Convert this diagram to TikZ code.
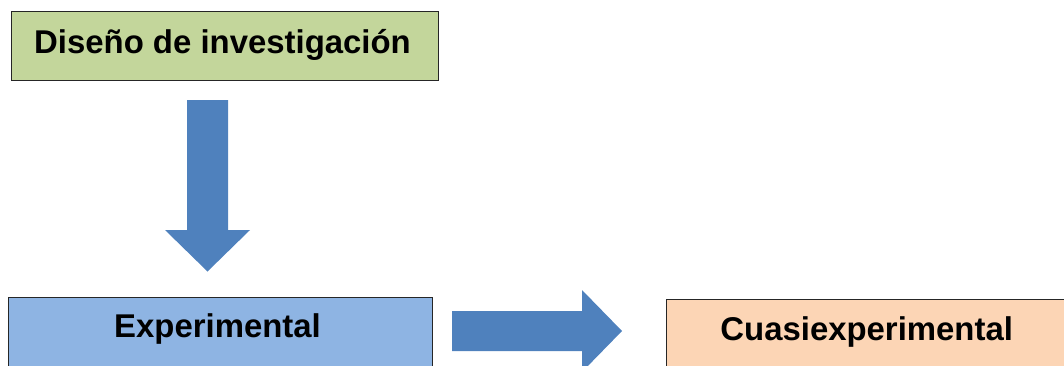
\documentclass[tikz,border=0pt]{standalone}
\usepackage{fontspec}
\setmainfont{Liberation Sans}
\begin{document}
\definecolor{boxgreen}{HTML}{C3D69B}
\definecolor{boxblue}{HTML}{8EB4E3}
\definecolor{boxpeach}{HTML}{FCD5B5}
\definecolor{arrowblue}{HTML}{4F81BD}
\definecolor{edge}{HTML}{262626}
\begin{tikzpicture}[x=1pt,y=-1pt,
  box/.style={draw=edge,line width=1pt,anchor=north west,inner sep=0pt},
  label/.style={anchor=base,inner sep=0pt,font=\fontsize{32.9}{36}\selectfont\bfseries},
  blockarrow/.style={fill=arrowblue,draw=none}]
\useasboundingbox (0,0) rectangle (1064,365);
\clip (0,0) rectangle (1064,365);
% boxes
\node[box,fill=boxgreen,minimum width=427pt,minimum height=69pt] (design) at (11,11) {};
\node[box,fill=boxblue,minimum width=424pt,minimum height=90pt] (exp) at (7.5,297) {};
\node[box,fill=boxpeach,minimum width=410pt,minimum height=90pt] (quasi) at (666,299) {};
% texts
\node[label] (tdesign) at (222.5,53) {Diseño de investigación};
\node[label] (texp) at (217.5,337) {Experimental};
\node[label] (tquasi) at (866.7,340) {Cuasiexperimental};
% block arrows
\fill[blockarrow] (187,100) -- (228,100) -- (228,230) -- (250,230) -- (207.5,271.5)
  -- (165,230) -- (187,230) -- cycle;
\fill[blockarrow] (452,311) -- (582,311) -- (582,290) -- (622,331) -- (582,372)
  -- (582,351) -- (452,351) -- cycle;
\end{tikzpicture}
\end{document}
